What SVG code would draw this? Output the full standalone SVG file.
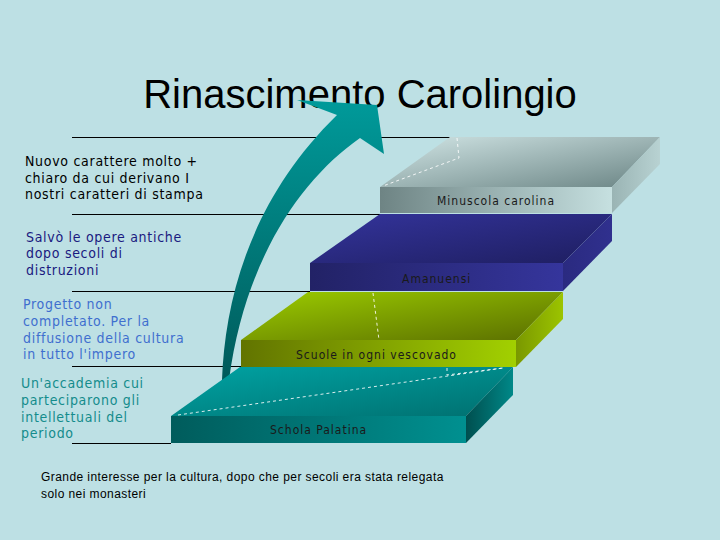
<svg xmlns="http://www.w3.org/2000/svg" width="720" height="540" viewBox="0 0 720 540">
<defs>
<style>
.lt{font-family:"DejaVu Sans Condensed","DejaVu Sans",sans-serif;font-stretch:condensed;font-size:14px;letter-spacing:0.7px}
.sl{font-family:"DejaVu Sans Condensed","DejaVu Sans",sans-serif;font-stretch:condensed;font-size:12px;letter-spacing:1px;fill:#1a1a1a}
.ln{stroke:#000;stroke-width:1;fill:none}
.dash{stroke:#fff;stroke-width:1;stroke-dasharray:3,3;fill:none;opacity:0.85}
</style>
<linearGradient id="tTop" x1="0" y1="0" x2="1" y2="1"><stop offset="0" stop-color="#00a3a3"/><stop offset="1" stop-color="#007070"/></linearGradient>
<linearGradient id="tFront" x1="0" y1="0" x2="1" y2="0"><stop offset="0" stop-color="#005c5c"/><stop offset="1" stop-color="#009090"/></linearGradient>
<linearGradient id="tSide" x1="0" y1="0" x2="1" y2="0"><stop offset="0" stop-color="#004f4f"/><stop offset="1" stop-color="#008888"/></linearGradient>
<linearGradient id="gTop" x1="0" y1="0" x2="1" y2="1"><stop offset="0" stop-color="#9ccc00"/><stop offset="1" stop-color="#5a6e00"/></linearGradient>
<linearGradient id="gFront" x1="0" y1="0" x2="1" y2="0"><stop offset="0" stop-color="#627400"/><stop offset="1" stop-color="#a2d000"/></linearGradient>
<linearGradient id="gSide" x1="0" y1="0" x2="1" y2="0"><stop offset="0" stop-color="#7a9800"/><stop offset="1" stop-color="#9cc400"/></linearGradient>
<linearGradient id="bTop" x1="0" y1="0" x2="1" y2="1"><stop offset="0" stop-color="#34349c"/><stop offset="1" stop-color="#1e1e60"/></linearGradient>
<linearGradient id="bFront" x1="0" y1="0" x2="1" y2="0"><stop offset="0" stop-color="#222266"/><stop offset="1" stop-color="#35359c"/></linearGradient>
<linearGradient id="bSide" x1="0" y1="0" x2="1" y2="0"><stop offset="0" stop-color="#2a2a80"/><stop offset="1" stop-color="#30308e"/></linearGradient>
<linearGradient id="sTop" x1="0" y1="0" x2="1" y2="1"><stop offset="0" stop-color="#d2e6e6"/><stop offset="1" stop-color="#6a8484"/></linearGradient>
<linearGradient id="sFront" x1="0" y1="0" x2="1" y2="0"><stop offset="0" stop-color="#6e8484"/><stop offset="1" stop-color="#c6e0e0"/></linearGradient>
<linearGradient id="sSide" x1="0" y1="0" x2="1" y2="0"><stop offset="0" stop-color="#9ab4b4"/><stop offset="1" stop-color="#b8d2d2"/></linearGradient>
<linearGradient id="arr" x1="0" y1="0" x2="0" y2="1"><stop offset="0" stop-color="#009a9a"/><stop offset="1" stop-color="#005a5a"/></linearGradient>
</defs>
<rect width="720" height="540" fill="#bde0e4"/>
<text id="title" x="360" y="108" text-anchor="middle" font-family="'Liberation Sans',Arial,sans-serif" font-size="40" fill="#000">Rinascimento Carolingio</text>
<g id="connectors">
<path class="ln" d="M72,137.5H450M72,214.5H380M72,291.5H310M72,366.5H241M72,443.5H171"/>
</g>
<g id="arrow">
<path d="M222,380 C225,300 250,200 337,115 L297,100 L377,105 L384,154 L360,138 C300,180 245,260 229,380 Z" fill="url(#arr)"/>
</g>
<g id="step-schola">
<polygon points="171,416 240,367 513,367 466,416" fill="url(#tTop)"/>
<polygon points="466,416 513,367 513,395 466,443" fill="url(#tSide)"/>
<rect x="171" y="416" width="295" height="27" fill="url(#tFront)"/>
<path class="dash" d="M178,415 L503,368 M447,368 V375 L503,368"/>
<text class="sl" x="270" y="434">Schola Palatina</text>
</g>
<g id="step-scuole">
<polygon points="241,340 308,292 563,292 516,340" fill="url(#gTop)"/>
<polygon points="516,340 563,292 563,319 516,367" fill="url(#gSide)"/>
<rect x="241" y="340" width="275" height="27" fill="url(#gFront)"/>
<path class="dash" d="M373,293 L379,340"/>
<text class="sl" x="296" y="359">Scuole in ogni vescovado</text>
</g>
<g id="step-amanuensi">
<polygon points="310,263 380,214 612,214 563,263" fill="url(#bTop)"/>
<polygon points="563,263 612,214 612,241 563,291" fill="url(#bSide)"/>
<rect x="310" y="263" width="253" height="28" fill="url(#bFront)"/>
<text class="sl" x="402" y="283">Amanuensi</text>
</g>
<g id="step-minuscola">
<polygon points="380,187 450,137 660,137 612,187" fill="url(#sTop)"/>
<polygon points="612,187 660,137 660,164 612,213" fill="url(#sSide)"/>
<rect x="380" y="187" width="232" height="26" fill="url(#sFront)"/>
<path class="dash" d="M457,138 L459,158 L383,186"/>
<text class="sl" x="437" y="205">Minuscola carolina</text>
</g>
<g id="note-minuscola" class="lt" fill="#000">
<text x="25" y="166">Nuovo carattere molto +</text>
<text x="25" y="183">chiaro da cui derivano I</text>
<text x="25" y="199">nostri caratteri di stampa</text>
</g>
<g id="note-amanuensi" class="lt" fill="#1a1a80">
<text x="26" y="242">Salvò le opere antiche</text>
<text x="26" y="258">dopo secoli di</text>
<text x="26" y="275">distruzioni</text>
</g>
<g id="note-scuole" class="lt" fill="#3f6fcf">
<text x="23" y="309">Progetto non</text>
<text x="23" y="326">completato. Per la</text>
<text x="23" y="343">diffusione della cultura</text>
<text x="23" y="359">in tutto l'impero</text>
</g>
<g id="note-schola" class="lt" fill="#148c8c">
<text x="21" y="388">Un'accademia cui</text>
<text x="21" y="405">parteciparono gli</text>
<text x="21" y="422">intellettuali del</text>
<text x="21" y="438">periodo</text>
</g>
<g id="note-bottom" font-family="'Liberation Sans',Arial,sans-serif" font-size="12" letter-spacing="0.43" fill="#000">
<text x="41" y="481">Grande interesse per la cultura, dopo che per secoli era stata relegata</text>
<text x="41" y="498">solo nei monasteri</text>
</g>
</svg>
